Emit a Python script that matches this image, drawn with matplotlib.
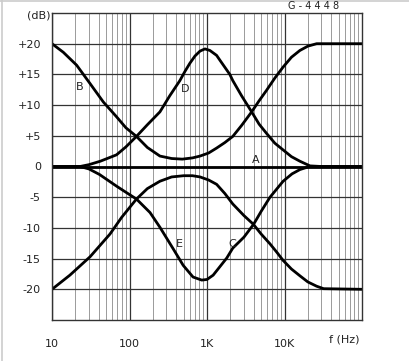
import numpy as np
from matplotlib import pyplot as plt
from matplotlib.ticker import FixedLocator, LogLocator, NullFormatter
from matplotlib.lines import Line2D

# curves: frequency (Hz) and level (dB)
a_f = [10, 100000]
a_db = [0, 0]

b_f = [10, 14, 20.8, 31, 46, 68, 90, 123, 170, 247, 350, 480, 650, 813, 1050,
       1330, 1700, 2150, 2800, 3770, 4700, 5860, 7500, 9600, 12300, 15800,
       20000, 26000, 100000]
b_db = [20, 18.6, 16.5, 13.5, 10.5, 8.1, 6.3, 4.9, 3.1, 1.7, 1.3, 1.2, 1.4, 1.7, 2.2,
        3.0, 3.9, 4.9, 6.7, 8.9, 10.7, 12.4, 14.4, 16.2, 17.8, 18.9,
        19.6, 20, 20]

c_f = [10, 17, 31, 56, 79, 123, 170, 247, 350, 500, 650, 813, 1050, 1330, 1700,
       2150, 3000, 3960, 5000, 6500, 8000, 9600, 12300, 15800, 20000, 26000,
       32000, 100000]
c_db = [-20, -17.7, -14.7, -11.0, -8.3, -5.3, -3.6, -2.4, -1.7, -1.5, -1.5, -1.7, -2.2, -2.9, -4.4,
        -6.1, -8.0, -9.4, -11.0, -12.6, -14.0, -15.3, -16.7, -17.8, -18.8, -19.5,
        -19.9, -20]

d_f = [10, 23, 30, 42, 68, 90, 123, 170, 247, 330, 447, 520, 600, 700, 813, 940, 1090,
       1330, 1470, 1970, 2150, 2800, 3770, 4700, 5860, 7500, 9600, 12300, 15800,
       21300, 30000, 100000]
d_db = [0, 0, 0.3, 0.86, 1.9, 3.2, 4.9, 6.8, 8.9, 11.5, 14.0, 15.5, 16.8, 18.0, 18.8, 19.15, 18.9,
        18.1, 17.3, 15.0, 14.0, 11.5, 8.9, 6.9, 5.4, 3.8, 2.7, 1.6, 0.86,
        0.1, 0, 0]

e_f = [10, 23, 30, 41, 68, 90, 123, 184, 247, 366, 493, 660, 855, 1000, 1200, 1470,
       1800, 2150, 3000, 4000, 5000, 6500, 9600, 12500, 15800, 21000, 100000]
e_db = [0, 0, -0.4, -1.3, -3.2, -4.2, -5.3, -7.5, -9.9, -13.4, -16.1, -18.0, -18.5, -18.4, -17.7, -16.3,
        -14.9, -13.3, -11.5, -9.4, -7.3, -5.0, -2.4, -1.2, -0.5, 0, 0]

# label positions for the curves
labels = ["A", "B", "C", "D", "E"]
label_f = [4200, 23, 2100, 520, 445]
label_db = [1.1, 12.9, -12.7, 12.7, -12.6]

y_ticks = [20, 15, 10, 5, 0, -5, -10, -15, -20]
y_tick_labels = ["+20", "+15", "+10", "+5", "0", "-5", "-10", "-15", "-20"]
x_ticks = [10, 100, 1000, 10000]
x_tick_labels = ["10", "100", "1K", "10K"]

fig = plt.figure(figsize=(4.09, 3.61), dpi=100)
ax = fig.add_axes([52 / 409, 41 / 361, 310 / 409, 307 / 361])

ax.set_xscale("log")
ax.set_xlim(10, 100000)
ax.set_ylim(-25, 25)

ax.xaxis.set_major_locator(FixedLocator(x_ticks))
ax.xaxis.set_minor_locator(LogLocator(base=10, subs=np.arange(2, 10)))
ax.xaxis.set_minor_formatter(NullFormatter())
ax.set_xticklabels(x_tick_labels)
ax.set_yticks(y_ticks)
ax.set_yticklabels(y_tick_labels)

ax.tick_params(which="both", length=0, labelsize=8, colors="#222222")
ax.tick_params(axis="y", pad=8)
ax.tick_params(axis="x", pad=14)

ax.grid(which="major", axis="y", color="#333333", lw=0.9)
ax.grid(which="major", axis="x", color="#333333", lw=0.9)
ax.grid(which="minor", axis="x", color="#8a8a8a", lw=0.6)
for s in ax.spines.values():
    s.set_color("#333333")
    s.set_linewidth(1.0)

for f, db in [(a_f, a_db), (b_f, b_db), (c_f, c_db), (d_f, d_db), (e_f, e_db)]:
    ax.plot(f, db, color="black", lw=2.0, solid_capstyle="round", solid_joinstyle="round")

for name, f, db in zip(labels, label_f, label_db):
    ax.text(f, db, name, fontsize=8, color="#222222", ha="center", va="center")

fig.text(50 / 409, 1 - 15 / 361, "(dB)", fontsize=8, color="#222222", ha="right", va="center")
fig.text(344 / 409, 1 - 340 / 361, "f (Hz)", fontsize=8, color="#222222", ha="center", va="center")
fig.text(314 / 409, 1 - 6 / 361, "G - 4 4 4 8", fontsize=7, color="#222222", ha="center", va="center")

# light border from the scanned page
fig.add_artist(Line2D([0, 1], [1 - 1 / 361, 1 - 1 / 361], color="#cccccc", lw=1.2))
fig.add_artist(Line2D([2 / 409, 2 / 409], [0, 1], color="#cccccc", lw=1.2))

fig.savefig("out.png", dpi=100)
